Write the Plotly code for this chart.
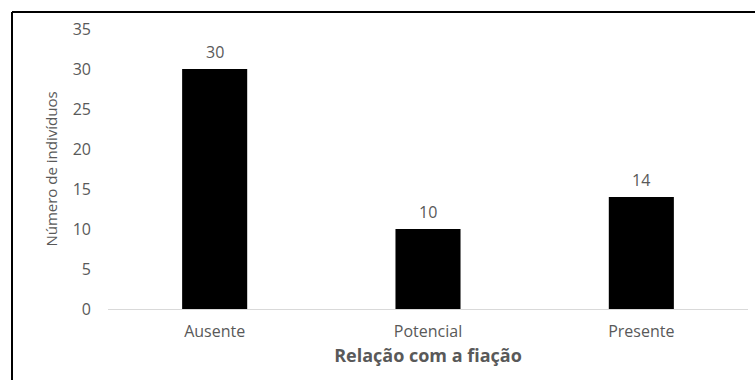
import plotly.graph_objects as go

categories = ["Ausente", "Potencial", "Presente"]
values = [30, 10, 14]
y_ticks = [0, 5, 10, 15, 20, 25, 30, 35]

W, H = 755, 380
L, R, T, B = 108, 7, 29, 71
pw, ph = W - L - R, H - T - B

gray = "#595959"
font_family = "Open Sans, sans-serif"

fig = go.Figure()
fig.add_trace(go.Bar(
    x=categories, y=values,
    marker=dict(color="#000000", line=dict(width=0)),
    width=0.305,
    hoverinfo="skip",
))

for c, v in zip(categories, values):
    fig.add_annotation(x=c, y=v, text=str(v), showarrow=False,
                       yanchor="middle", yshift=17,
                       font=dict(family=font_family, size=16, color=gray))

# outer frame (only top and left edges visible in the reference)
top_y = (H - B - 12) / ph
left_x = (12 - L) / pw
fig.add_shape(type="line", xref="paper", yref="paper",
              x0=left_x, x1=(W + 20 - L) / pw, y0=top_y, y1=top_y,
              line=dict(color="black", width=2))
fig.add_shape(type="line", xref="paper", yref="paper",
              x0=left_x, x1=left_x, y0=top_y, y1=-(H + 20 - (H - B)) / ph,
              line=dict(color="black", width=2))

fig.update_layout(
    width=W, height=H,
    margin=dict(l=L, r=R, t=T, b=B, pad=0),
    paper_bgcolor="white", plot_bgcolor="white",
    showlegend=False,
    font=dict(family=font_family, size=16, color=gray),
    xaxis=dict(
        showgrid=False, showline=True, linecolor="#d9d9d9", linewidth=1,
        ticks="", tickfont=dict(size=16, color=gray), ticklabelstandoff=8,
        title=dict(text="<b>Relação com a fiação</b>", font=dict(size=18, color=gray), standoff=8),
    ),
    yaxis=dict(
        range=[0, 35], tickvals=y_ticks, showgrid=False, zeroline=False,
        showline=False, ticks="", ticklabelstandoff=16,
        tickfont=dict(size=16, color=gray),
        title=dict(text="Número de indivíduos", font=dict(size=15, color=gray), standoff=11),
    ),
)

fig.write_html(
    "out.html",
    config={"displayModeBar": False},
    post_script="document.body.style.margin='0';document.body.style.overflow='hidden';"
                "document.documentElement.style.overflow='hidden';",
)
